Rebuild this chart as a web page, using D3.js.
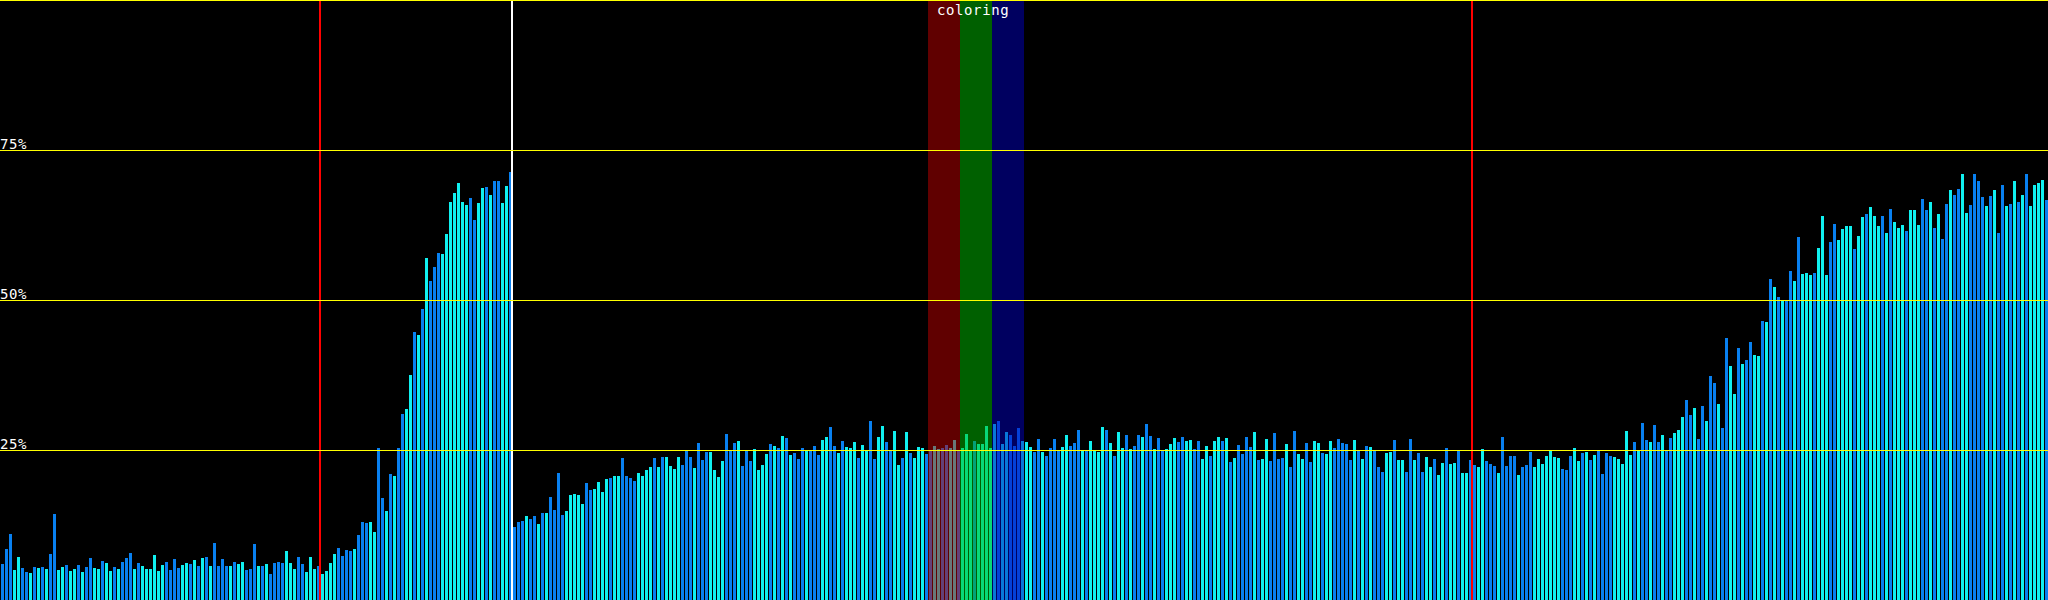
<!DOCTYPE html>
<html>
<head>
<meta charset="utf-8">
<script src="https://cdn.jsdelivr.net/npm/d3@7"></script>
<style>
html,body{margin:0;padding:0;background:#000;overflow:hidden;}
svg{display:block;}
text{font-family:"DejaVu Sans Mono","Liberation Mono",monospace;font-size:14px;letter-spacing:0.6px;fill:#fff;}
</style>
</head>
<body>
<svg id="chart" width="2048" height="600"></svg>
<script>
// ---- data ----
const barValues = [
6.0,8.5,11.0,5.0,7.2,5.3,4.7,4.5,5.5,5.3,5.5,5.2,7.7,14.3,5.0,5.5,5.8,4.8,5.2,5.8,
4.7,5.5,7.0,5.3,5.2,6.5,6.2,4.8,5.5,5.2,6.3,7.0,7.8,5.2,6.2,5.7,5.2,5.2,7.5,4.8,
5.8,6.3,5.0,6.8,5.3,5.8,6.2,6.0,6.7,5.7,7.0,7.2,5.7,9.5,5.7,6.8,5.7,5.7,6.3,6.0,
6.3,5.0,5.2,9.3,5.7,5.7,6.0,4.3,6.2,6.3,6.2,8.2,6.2,5.2,7.2,6.0,4.7,7.2,5.2,5.7,
4.3,4.8,6.2,7.7,8.7,7.3,8.3,8.2,8.5,10.8,13.0,12.8,13.0,11.3,25.3,17.0,14.8,21.0,20.7,25.3,
31.0,31.8,37.5,44.7,44.2,48.5,57.0,53.2,55.5,57.8,57.7,61.0,66.3,67.8,69.5,66.3,65.8,67.0,63.3,66.2,
68.7,68.8,67.5,69.8,69.8,66.2,69.0,71.3,12.2,13.0,13.2,14.0,13.5,14.0,12.7,14.5,14.5,17.2,15.0,21.2,
14.2,14.8,17.5,17.7,17.5,16.0,19.5,18.3,18.5,19.7,18.0,20.2,20.3,20.7,20.7,23.7,20.7,20.3,19.8,21.2,
20.7,21.7,22.2,23.7,22.2,23.8,23.8,22.3,21.8,23.8,22.5,24.8,23.8,22.0,26.2,23.3,24.7,24.7,21.7,20.5,
23.2,27.7,25.0,26.2,26.5,22.3,25.0,23.2,25.2,21.7,22.5,24.3,26.0,25.7,25.3,27.3,27.0,24.2,24.5,23.5,
25.3,25.0,25.0,25.7,24.2,26.7,27.2,28.8,25.7,24.5,26.5,25.5,25.3,26.3,23.7,25.8,25.0,29.8,23.5,27.2,
29.0,26.3,25.0,28.2,22.5,23.7,28.0,24.5,23.7,25.5,25.3,24.3,24.8,25.7,25.2,25.3,25.8,25.3,26.7,24.8,
25.3,27.7,24.8,26.5,26.0,26.0,29.0,25.3,29.3,29.8,26.0,28.0,27.5,25.7,28.7,26.5,26.3,25.5,24.7,26.8,
24.7,24.0,25.3,26.8,25.0,25.5,27.5,25.7,26.2,28.3,25.0,25.0,26.5,25.0,24.7,28.8,28.3,26.2,24.0,28.0,
25.3,27.5,25.2,25.7,27.5,27.2,29.3,27.3,25.2,27.0,25.0,25.2,26.0,27.0,26.3,27.2,26.5,26.7,25.2,26.5,
23.5,25.7,24.0,26.5,27.2,26.5,27.0,23.0,23.7,25.8,24.3,27.2,25.5,28.0,23.3,23.5,26.8,23.2,27.8,23.5,
23.7,26.0,22.2,28.2,24.3,23.5,26.2,23.0,26.5,26.2,24.5,24.3,26.5,25.3,26.8,26.2,26.0,23.3,26.7,25.0,
23.5,25.7,25.5,25.0,22.2,21.3,24.5,24.7,26.7,23.3,23.3,21.3,26.8,23.3,24.5,21.3,23.8,22.2,23.5,20.8,
22.8,25.3,22.7,22.8,24.8,21.2,21.2,23.3,22.5,22.2,25.2,23.2,22.7,22.3,21.2,27.2,22.3,24.0,24.0,20.8,
22.2,22.5,24.7,22.2,23.5,22.7,24.0,24.8,23.8,23.7,21.8,21.7,24.0,25.3,23.2,24.5,24.7,23.3,24.2,24.8,
21.0,24.5,24.0,23.8,23.5,22.7,28.2,24.2,26.3,25.0,29.5,26.7,26.3,29.2,26.3,27.5,25.0,27.0,27.8,28.3,
30.5,33.3,30.8,32.0,26.8,32.3,29.8,37.3,36.2,32.7,28.7,43.7,39.0,34.3,42.0,39.3,40.0,43.0,40.8,40.7,
46.5,46.3,53.5,52.2,50.5,49.8,49.8,54.8,53.2,60.5,54.3,54.5,54.2,54.5,58.7,64.0,54.2,59.7,62.7,60.0,
61.8,62.3,62.3,58.5,60.7,63.8,64.3,65.5,64.0,62.3,64.0,61.2,65.2,63.0,62.0,62.5,61.5,65.0,65.0,62.5,
66.8,65.0,66.3,62.0,64.3,60.2,66.0,68.3,67.5,68.5,71.0,64.5,65.8,71.0,69.8,67.2,65.7,67.3,68.3,61.2,
69.2,65.7,66.0,69.8,66.3,67.5,71.0,65.7,69.2,69.5,70.0,66.7
];
// series membership per bar, 10 bars per chunk: "b" = blue series, "c" = cyan series
const barSeries = [
"bbbccbbcbc","bcbbccbccb","cbbccbccbc","bbbcbccccc","cbbbbccbcb","cbcbbbbcbc","cbbbcbcbbb","bcccbbcccb",
"ccccbbbbcb","bbccbbcbcb",
"bccbcbcbbb","cccccccbbc","cbcbbccbbb",
"bcbbcbcbbb","bccccc",
"bbccccbccb","bbbccccbcb","ccccbbbcbb","bcccc",
"bbbcbbbccc","cbcbcbcbbb","cbbbccbbcb","cccbccbbcc",
"bbccbcbccc","bbccbbccbc","ccbcccccbc","cbbbcccbbc","bbbbccbbbc","bccccbcbcc","bcbbcbbcbb","ccc",
"bbccbbccbc","cbcbcbbbbc","bccbbbbcbb","ccbbccbccb","bbbbcbcbcb","bbccbc",
"cbbcbbccbc","cbccbccbbc","cbbbcbbbbc","bbbccccccc","bbbccbcbcb","bbbcccccbc","bbcbbcbbcc","cbbcb",
"bcbbcbbccb","cbbccbcbcb","cbb",
"cbcccbcccb","bccccbccbc","ccbcbcccbc","ccbbcbcbbc","bbccbbbbcb","cbbcbcbcbc","cccb"
].join("").split("");
const gridValues = [25, 50, 75, 100];
const tickLabels = ["25%", "50%", "75%"];
const redMarkers = [80, 368];
const whiteMarkers = [128];
const bandStarts = [232, 240, 248];
const bandWidthBars = 8;
const bandLabel = "coloring";

// ---- layout ----
const W = 2048, H = 600;
const svg = d3.select("#chart");
const idx = d3.range(barValues.length);
const x = d3.scaleBand().domain(idx).range([0, W]).paddingInner(0.25).paddingOuter(0.125).align(1);
const xl = d3.scaleLinear().domain([0, barValues.length]).range([0, W]);
const y = d3.scaleLinear().domain([0, 100]).range([H, 0]);
const seriesColor = d3.scaleOrdinal().domain(["b", "c"]).range(["#0880f0", "#10f0f0"]);
const bandColor = ["rgba(192,0,0,0.5)", "rgba(0,192,0,0.5)", "rgba(0,0,192,0.5)"];

svg.append("rect").attr("width", W).attr("height", H).attr("fill", "#000");

// bars
svg.append("g").selectAll("rect").data(idx).join("rect")
  .attr("x", i => x(i))
  .attr("width", x.bandwidth())
  .attr("y", i => y(barValues[i]))
  .attr("height", i => H - y(barValues[i]))
  .attr("fill", i => seriesColor(barSeries[i] || "b"))
  .attr("shape-rendering", "crispEdges");

// coloring bands
svg.append("g").selectAll("rect").data(bandStarts).join("rect")
  .attr("x", d => xl(d))
  .attr("width", d => xl(d + bandWidthBars) - xl(d))
  .attr("y", 0).attr("height", H)
  .attr("fill", (d, i) => bandColor[i])
  .attr("shape-rendering", "crispEdges");

svg.append("text")
  .attr("x", xl(bandStarts[0]) + 9)
  .attr("y", 15)
  .text(bandLabel);

// vertical markers
svg.append("g").selectAll("rect").data(redMarkers).join("rect")
  .attr("x", d => xl(d) - 1).attr("width", 2)
  .attr("y", 0).attr("height", H)
  .attr("fill", "#ff0000").attr("shape-rendering", "crispEdges");
svg.append("g").selectAll("rect").data(whiteMarkers).join("rect")
  .attr("x", d => xl(d) - 1).attr("width", 2)
  .attr("y", 0).attr("height", H)
  .attr("fill", "#ffffff").attr("shape-rendering", "crispEdges");

// horizontal grid lines
svg.append("g").selectAll("rect").data(gridValues).join("rect")
  .attr("x", 0).attr("width", W)
  .attr("y", d => y(d)).attr("height", 1)
  .attr("fill", "#ffff00").attr("shape-rendering", "crispEdges");

// tick labels
svg.append("g").selectAll("text").data(tickLabels).join("text")
  .attr("x", 0)
  .attr("y", (d, i) => y(gridValues[i]) - 1)
  .text(d => d);
</script>
</body>
</html>
